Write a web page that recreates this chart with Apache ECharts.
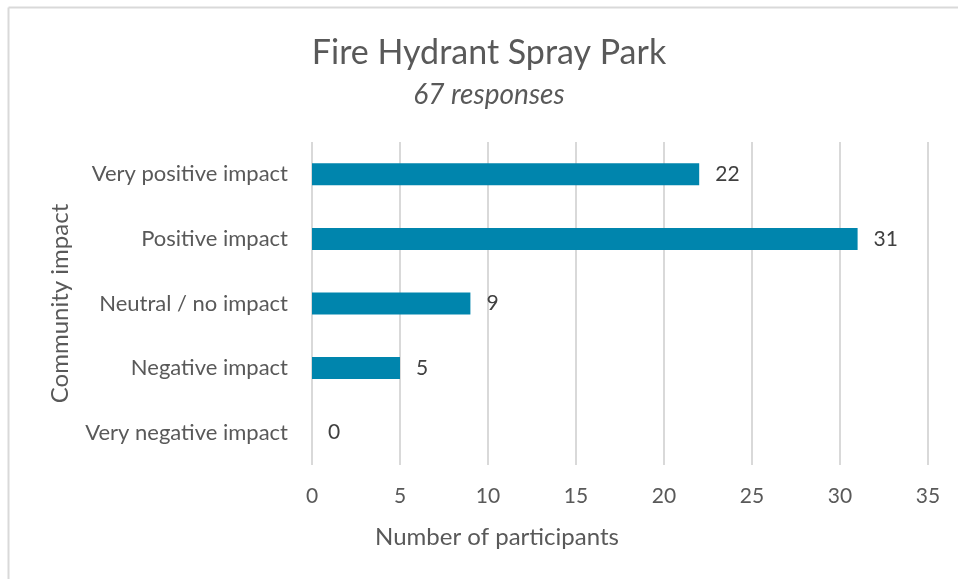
<!DOCTYPE html>
<html>
<head>
<meta charset="utf-8">
<script src="https://cdn.jsdelivr.net/npm/echarts@6/dist/echarts.min.js"></script>
<style>
  html, body { margin: 0; padding: 0; background: #fff; }
  #chart { width: 958px; height: 579px; }
</style>
</head>
<body>
<div id="chart"></div>
<script>
const categories = ['Very positive impact', 'Positive impact', 'Neutral / no impact', 'Negative impact', 'Very negative impact']
const participants = [22, 31, 9, 5, 0]
const xTicks = [0, 35, 5] // min, max, interval

const chart = echarts.init(document.getElementById('chart'))
const font = 'Lato, "Open Sans", sans-serif'

chart.setOption({
  backgroundColor: '#fff',
  textStyle: { fontFamily: font },
  title: [
    {
      text: 'Fire Hydrant Spray Park',
      left: 484, top: 31, textAlign: 'center',
      textStyle: { fontSize: 34, fontWeight: 'normal', color: '#595959', fontFamily: font }
    },
    {
      text: '67 responses',
      left: 484, top: 76, textAlign: 'center',
      textStyle: { fontSize: 28, fontStyle: 'italic', fontWeight: 'normal', color: '#595959', fontFamily: font }
    }
  ],
  graphic: [
    { type: 'line', shape: { x1: 8.5, y1: 7.5, x2: 958, y2: 7.5 }, style: { stroke: '#d9d9d9', lineWidth: 2 } },
    { type: 'line', shape: { x1: 8.5, y1: 7.5, x2: 8.5, y2: 579 }, style: { stroke: '#d9d9d9', lineWidth: 2 } }
  ],
  grid: { left: 312, right: 30, top: 142, bottom: 114 },
  xAxis: {
    type: 'value',
    min: xTicks[0], max: xTicks[1], interval: xTicks[2],
    name: 'Number of participants',
    nameLocation: 'middle',
    nameGap: 60,
    nameTextStyle: { fontSize: 24, color: '#595959', padding: [0, 246, 0, 0] },
    axisLine: { show: false },
    axisTick: { show: false },
    axisLabel: { fontSize: 21, color: '#595959', margin: 21 },
    splitLine: { show: true, lineStyle: { color: '#d9d9d9', width: 2 } }
  },
  yAxis: {
    type: 'category',
    data: categories,
    inverse: true,
    name: 'Community impact',
    nameLocation: 'middle',
    nameGap: 240,
    nameRotate: 90,
    nameTextStyle: { fontSize: 24, color: '#595959' },
    axisLine: { show: false },
    axisTick: { show: false },
    axisLabel: { fontSize: 22, color: '#595959', margin: 24 }
  },
  series: [{
    type: 'bar',
    data: participants,
    barWidth: 22,
    itemStyle: { color: '#0085ad' },
    label: {
      show: true, position: 'right', distance: 16,
      fontSize: 21, color: '#404040'
    }
  }]
})
</script>
</body>
</html>
